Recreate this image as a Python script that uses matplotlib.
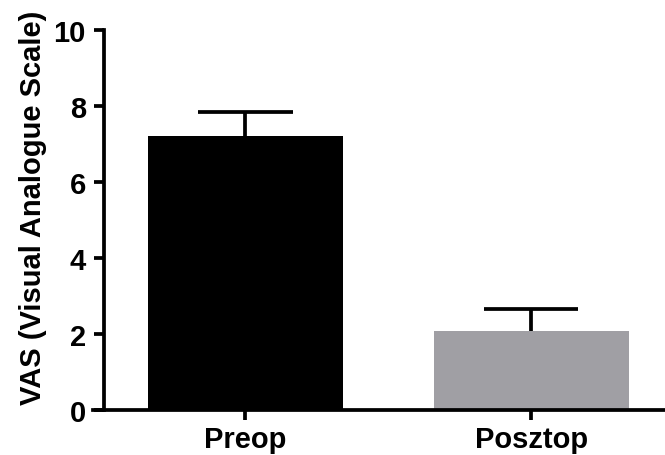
from matplotlib import pyplot as plt

# data
groups = ['Preop', 'Posztop']
means = [7.2, 2.07]
errs = [0.64, 0.57]
colors = ['#000000', '#a09fa4']

plt.rcParams['font.family'] = ['Liberation Sans', 'DejaVu Sans']
plt.rcParams['font.weight'] = 'bold'

fig = plt.figure(figsize=(6.65, 4.56), dpi=100)
ax = fig.add_axes([93/665, 1 - 410.5/456, (665 - 93)/665, (410.5 - 31)/456])

x = list(range(len(groups)))
tops = [m + e for m, e in zip(means, errs)]
cap = 0.166

# error bars (upper only), behind the bars
ax.vlines(x, means, tops, color='black', linewidth=2.7, zorder=1)
ax.hlines(tops, [i - cap for i in x], [i + cap for i in x], color='black', linewidth=2.7, zorder=1)
ax.bar(x, means, width=0.683, color=colors, zorder=2)

ax.set_xlim(-0.534, 1.469)
ax.set_ylim(0, 10)
ax.set_yticks([0, 2, 4, 6, 8, 10])
ax.set_xticks(x)
ax.set_xticklabels(groups)

for s in ['top', 'right']:
    ax.spines[s].set_visible(False)
ax.spines['left'].set_position(('data', -0.496))
ax.spines['left'].set_linewidth(2.7)
ax.spines['bottom'].set_linewidth(2.7)
ax.tick_params(axis='both', width=2.7, length=7.2, labelsize=21)
ax.tick_params(axis='y', pad=5.8)
ax.tick_params(axis='x', pad=4)
for lab in ax.get_xticklabels() + ax.get_yticklabels():
    lab.set_fontweight('bold')

ax.set_ylabel('VAS (Visual Analogue Scale)', fontsize=21, fontweight='bold')
ax.yaxis.set_label_coords(-0.080, 0.534)

fig.savefig('out.png', dpi=100)
